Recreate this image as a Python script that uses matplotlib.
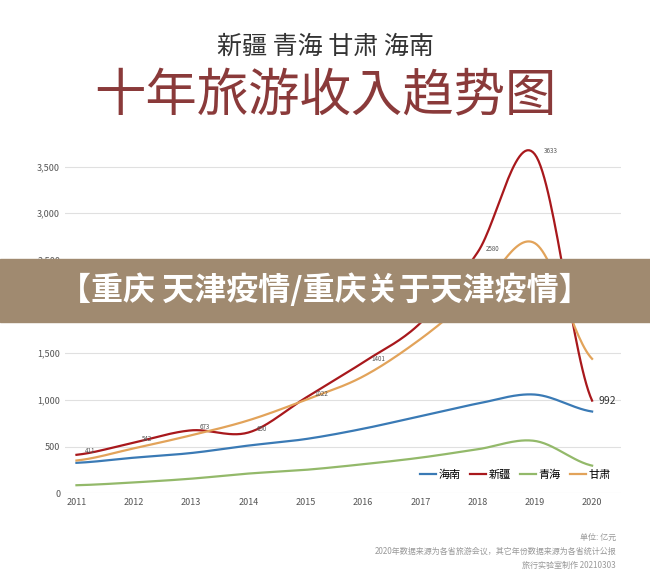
import numpy as np
import matplotlib
matplotlib.use("Agg")
import matplotlib.pyplot as plt
from matplotlib import font_manager as fm
from matplotlib.patches import Rectangle

cjk = sorted({f.name for f in fm.fontManager.ttflist if "Sans CJK" in f.name})
fam = "Noto Sans CJK SC" if "Noto Sans CJK SC" in cjk else (cjk[0] if cjk else "DejaVu Sans")
plt.rcParams["font.family"] = "sans-serif"
plt.rcParams["font.sans-serif"] = [fam, "DejaVu Sans"]

years = [2011, 2012, 2013, 2014, 2015, 2016, 2017, 2018, 2019, 2020]
hainan = [325, 380, 430, 510, 580, 690, 825, 960, 1057, 875]
xinjiang = [411, 542, 673, 650, 1022, 1401, 1822, 2580, 3633, 992]
qinghai = [85, 115, 155, 210, 250, 310, 380, 470, 560, 295]
gansu = [350, 480, 620, 780, 1000, 1250, 1650, 2150, 2680, 1440]
xj_labels = ["411", "542", "673", "650", "1022", "1401", "1822", "2580", "3633", "992"]
yticks = [0, 500, 1000, 1500, 2000, 2500, 3000, 3500]

def smooth(x, y, n=30):
    x = np.asarray(x, float); y = np.asarray(y, float)
    xs, ys = [], []
    for i in range(len(x) - 1):
        p0 = y[i - 1] if i > 0 else y[i]
        p3 = y[i + 2] if i + 2 < len(y) else y[i + 1]
        p1, p2 = y[i], y[i + 1]
        t = np.linspace(0, 1, n, endpoint=False)
        seg = 0.5 * ((2 * p1) + (-p0 + p2) * t + (2 * p0 - 5 * p1 + 4 * p2 - p3) * t**2 + (-p0 + 3 * p1 - 3 * p2 + p3) * t**3)
        xs.append(x[i] + t * (x[i + 1] - x[i])); ys.append(seg)
    xs.append([x[-1]]); ys.append([y[-1]])
    return np.concatenate(xs), np.concatenate(ys)

fig = plt.figure(figsize=(6.5, 5.85), dpi=100)
ax = fig.add_axes([0.1, 0.157, 0.855, 0.59])

series = [("海南", hainan, "#3a7ab5"), ("新疆", xinjiang, "#a8181c"),
          ("青海", qinghai, "#93b96a"), ("甘肃", gansu, "#e2a35a")]
for name, vals, c in series:
    xs, ys = smooth(years, vals)
    ax.plot(xs, ys, color=c, lw=1.6, label=name)

for i, (x, v, t) in enumerate(zip(years, xinjiang, xj_labels)):
    if i == len(years) - 1:
        ax.text(x + 0.12, v, t, fontsize=7.5, color="#333333", va="center")
    else:
        ax.text(x + 0.15, v + 40, t, fontsize=4.5, color="#555555", va="center")

ax.set_xlim(2010.8, 2020.5)
ax.set_ylim(0, 3700)
ax.set_yticks(yticks)
ax.set_yticklabels([f"{v:,}" for v in yticks], fontsize=6.5, color="#555555")
ax.set_xticks(years)
ax.set_xticklabels([str(y) for y in years], fontsize=6.5, color="#555555")
ax.grid(axis="y", color="#e0e0e0", lw=0.8)
ax.tick_params(length=0)
for s in ax.spines.values():
    s.set_visible(False)
ax.legend(loc="lower right", ncol=4, frameon=False, fontsize=8, handlelength=1.5,
          columnspacing=0.8, handletextpad=0.2, bbox_to_anchor=(1.0, 0.01))

fig.text(0.5, 0.92, "新疆 青海 甘肃 海南", ha="center", va="center", fontsize=18, color="#333333")
fig.text(0.5, 0.835, "十年旅游收入趋势图", ha="center", va="center", fontsize=37, color="#8a3a3a")

fig.patches.append(Rectangle((0, 0.45), 1, 0.108, transform=fig.transFigure, color="#a08a70", zorder=5))
fig.text(0.5, 0.504, "【重庆 天津疫情/重庆关于天津疫情】", ha="center", va="center",
         fontsize=23, color="white", weight="bold", zorder=6)

fig.text(0.948, 0.077, "单位: 亿元", ha="right", fontsize=5.8, color="#999999")
fig.text(0.948, 0.053, "2020年数据来源为各省旅游会议，其它年份数据来源为各省统计公报", ha="right", fontsize=5.8, color="#999999")
fig.text(0.948, 0.029, "旅行实验室制作 20210303", ha="right", fontsize=5.8, color="#999999")

fig.savefig("out.png", dpi=100, facecolor="white")
